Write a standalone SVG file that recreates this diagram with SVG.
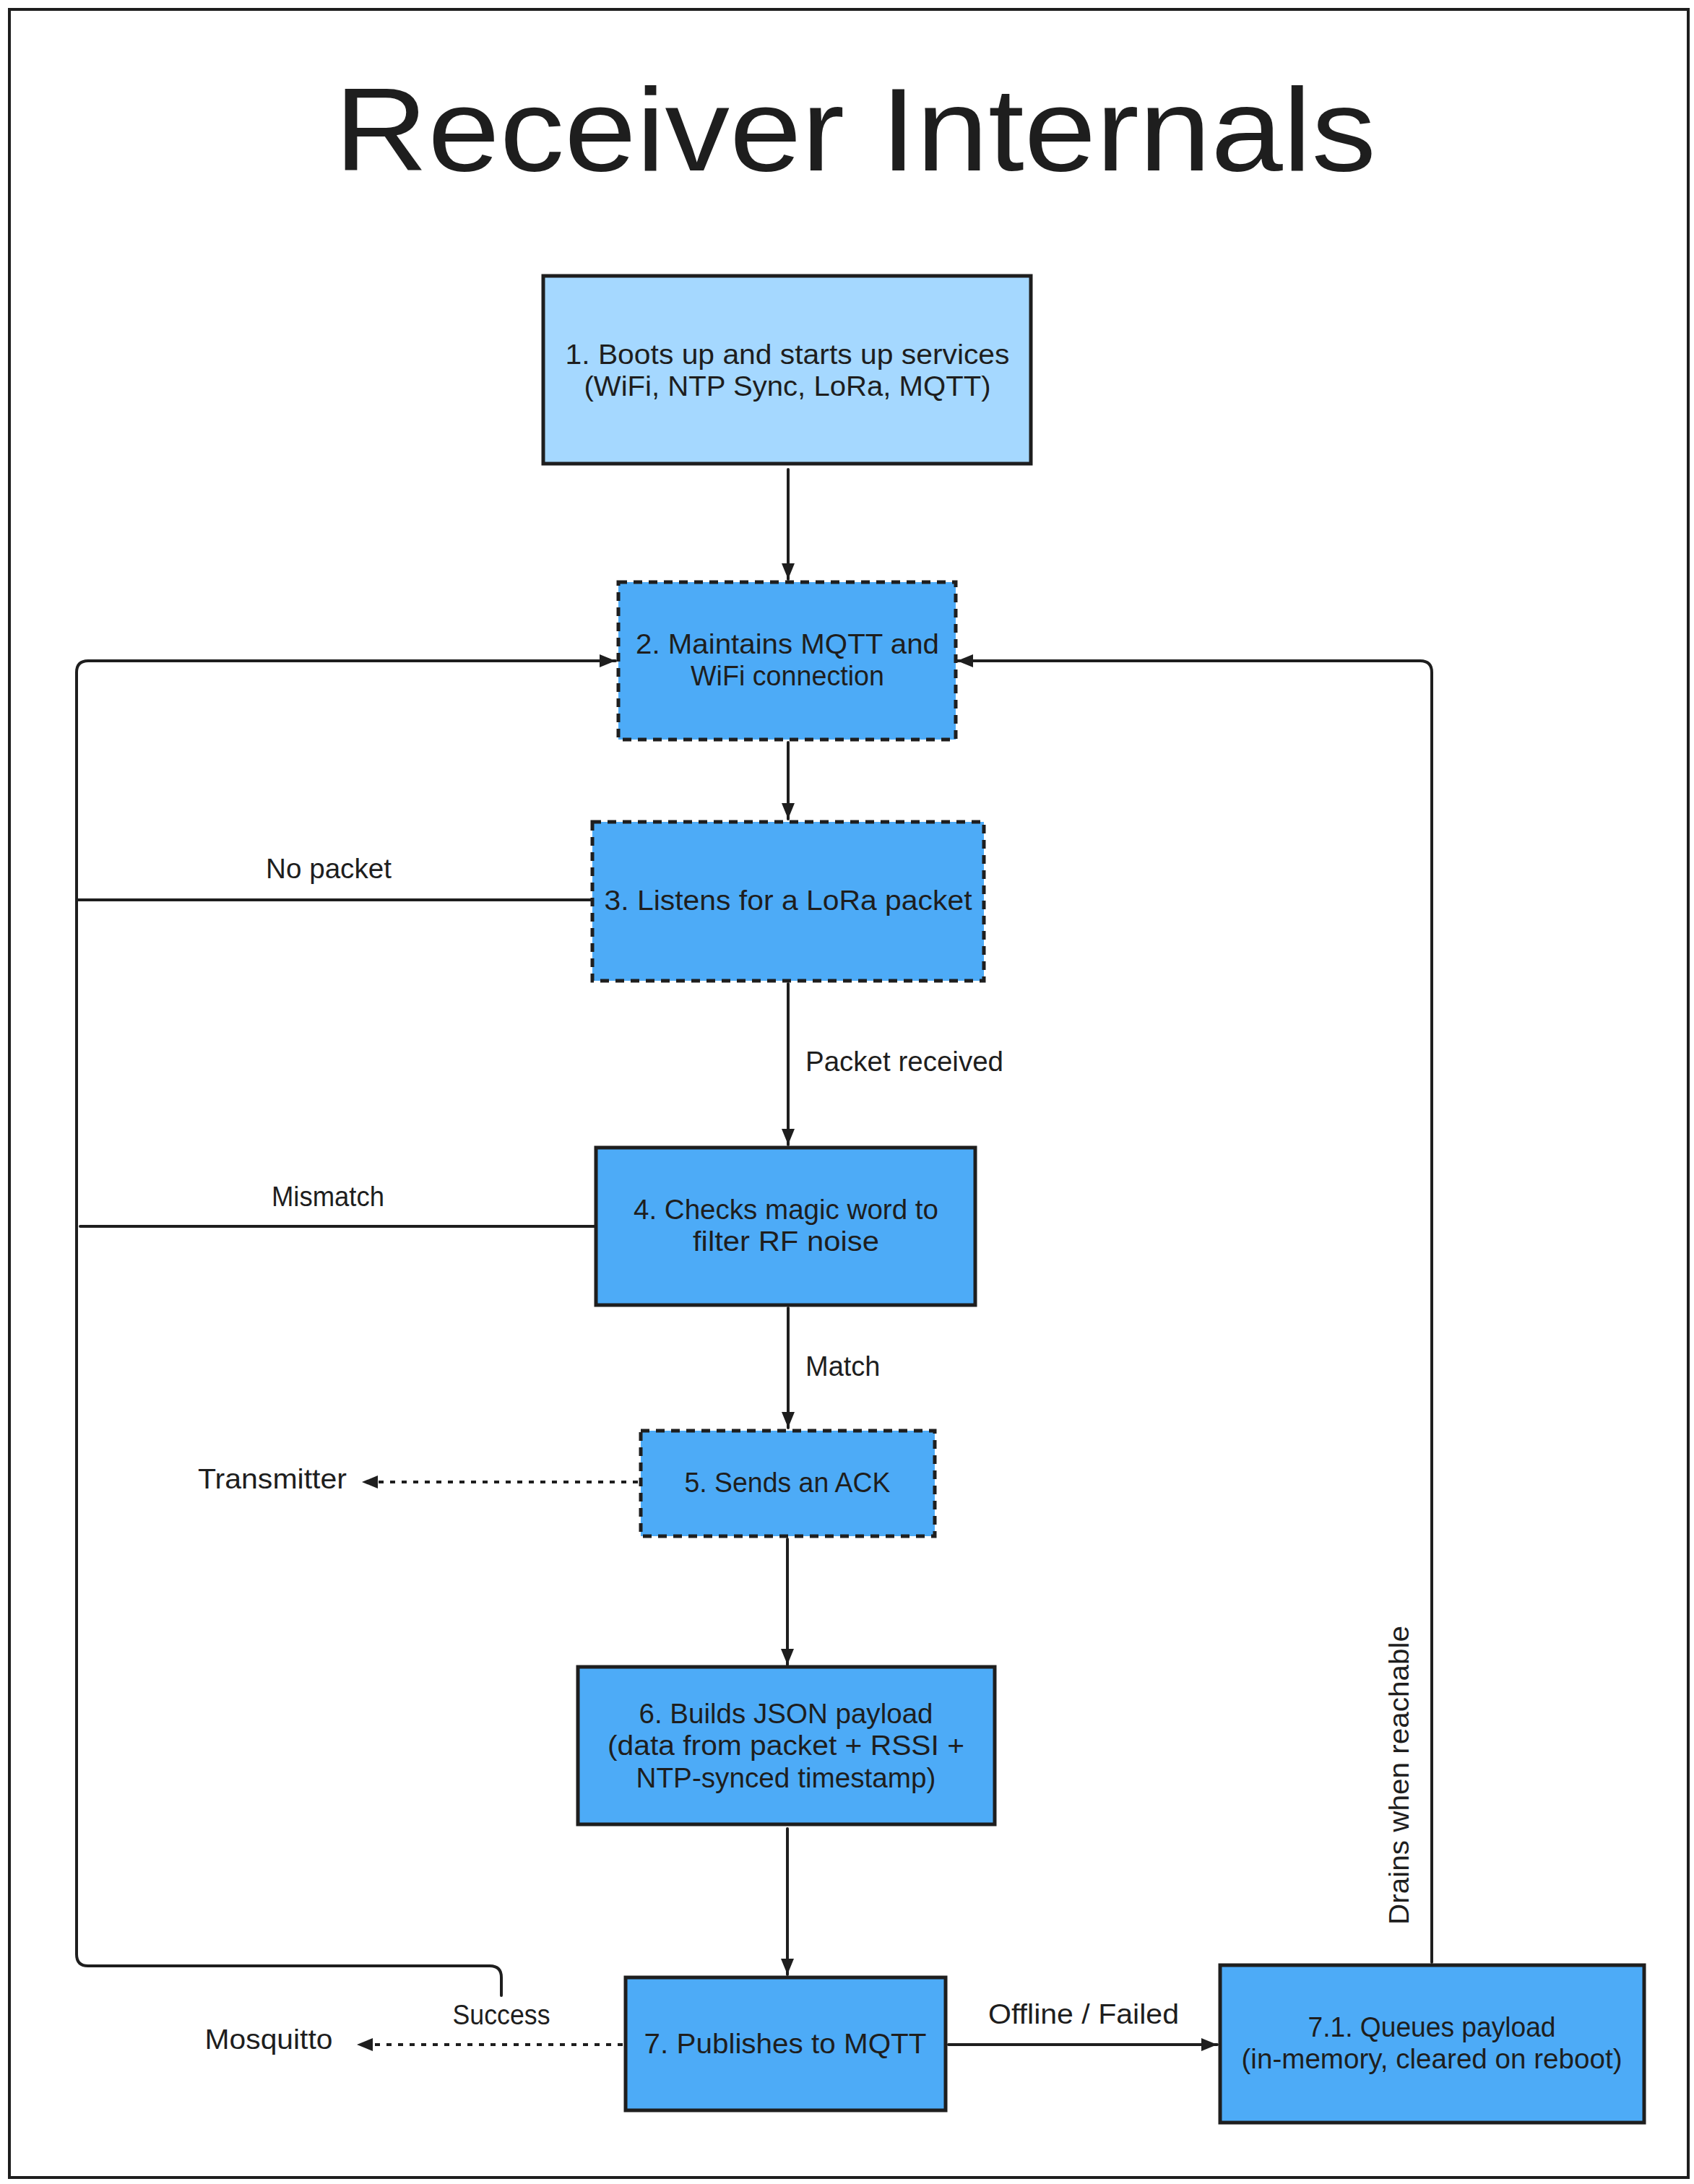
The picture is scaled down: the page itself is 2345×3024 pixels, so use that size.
<svg xmlns="http://www.w3.org/2000/svg" width="2345" height="3024" viewBox="0 0 2345 3024">
<defs>
<style>
text{font-family:"Liberation Sans",Arial,sans-serif;fill:#1e1e1e}
.t{font-size:38px;text-anchor:middle}
.l{font-size:38px}
.box{stroke:#1e1e1e;stroke-width:5}
.light{fill:#a5d8ff}
.blue{fill:#4dabf7}
.dash{stroke-dasharray:12 9}
.c{fill:none;stroke:#1e1e1e;stroke-width:4;stroke-linecap:round;stroke-linejoin:round}
.dot{stroke-dasharray:7 9;stroke-linecap:butt}
</style>
<marker id="ah" markerUnits="userSpaceOnUse" markerWidth="26" markerHeight="22" refX="22" refY="10" orient="auto">
<path d="M0 1 L22 10 L0 19 Z" fill="#1e1e1e"/>
</marker>
</defs>
<rect x="0" y="0" width="2345" height="3024" fill="#ffffff"/>
<rect id="frame" x="13" y="13" width="2324" height="3002" fill="none" stroke="#1e1e1e" stroke-width="4"/>
<text id="title" x="1184" y="236" font-size="164" text-anchor="middle" textLength="1442" lengthAdjust="spacingAndGlyphs">Receiver Internals</text>

<g id="connectors">
<path class="c" d="M1091 650 L1091 802" marker-end="url(#ah)"/>
<path class="c" d="M1091 1028 L1091 1134" marker-end="url(#ah)"/>
<path class="c" d="M1091 1362 L1091 1585" marker-end="url(#ah)"/>
<path class="c" d="M1091 1811 L1091 1977" marker-end="url(#ah)"/>
<path class="c" d="M1090 2131 L1090 2305" marker-end="url(#ah)"/>
<path class="c" d="M1090 2532 L1090 2734" marker-end="url(#ah)"/>
<path class="c" d="M1313 2831 L1685 2831" marker-end="url(#ah)"/>
<path class="c dot" d="M862 2831 L494 2831" marker-end="url(#ah)"/>
<path class="c dot" d="M883 2052 L501 2052" marker-end="url(#ah)"/>
<path class="c" d="M694 2763 L694 2738 Q694 2722 678 2722 L122 2722 Q106 2722 106 2706 L106 931 Q106 915 122 915 L852 915" marker-end="url(#ah)"/>
<path class="c" d="M820 1246 L106 1246"/>
<path class="c" d="M825 1698 L111 1698"/>
<path class="c" d="M1982 2717 L1982 931 Q1982 915 1966 915 L1325 915" marker-end="url(#ah)"/>
<text class="l" x="455" y="1216" text-anchor="middle" textLength="174" lengthAdjust="spacingAndGlyphs">No packet</text>
<text class="l" x="454" y="1670" text-anchor="middle" textLength="156" lengthAdjust="spacingAndGlyphs">Mismatch</text>
<text class="l" x="1115" y="1483" textLength="274" lengthAdjust="spacingAndGlyphs">Packet received</text>
<text class="l" x="1115" y="1905">Match</text>
<text class="l" x="377" y="2061" text-anchor="middle" textLength="206" lengthAdjust="spacingAndGlyphs">Transmitter</text>
<text class="l" x="694" y="2803" text-anchor="middle" textLength="135" lengthAdjust="spacingAndGlyphs">Success</text>
<text class="l" x="372" y="2837" text-anchor="middle" textLength="177" lengthAdjust="spacingAndGlyphs">Mosquitto</text>
<text class="l" x="1500" y="2802" text-anchor="middle" textLength="264" lengthAdjust="spacingAndGlyphs">Offline / Failed</text>
<text class="l" transform="translate(1950 2458) rotate(-90)" text-anchor="middle" font-size="40" textLength="414" lengthAdjust="spacingAndGlyphs">Drains when reachable</text>
</g>

<g id="n1">
<rect class="box light" x="752" y="382" width="675" height="260"/>
<text class="t" x="1090" y="504" textLength="615" lengthAdjust="spacingAndGlyphs">1. Boots up and starts up services</text>
<text class="t" x="1090" y="548" textLength="563" lengthAdjust="spacingAndGlyphs">(WiFi, NTP Sync, LoRa, MQTT)</text>
</g>
<g id="n2">
<rect class="box blue dash" x="856" y="806" width="467" height="218"/>
<text class="t" x="1090" y="905" textLength="420" lengthAdjust="spacingAndGlyphs">2. Maintains MQTT and</text>
<text class="t" x="1090" y="949" textLength="268" lengthAdjust="spacingAndGlyphs">WiFi connection</text>
</g>
<g id="n3">
<rect class="box blue dash" x="820" y="1138" width="542" height="220"/>
<text class="t" x="1091" y="1260" textLength="509" lengthAdjust="spacingAndGlyphs">3. Listens for a LoRa packet</text>
</g>
<g id="n4">
<rect class="box blue" x="825" y="1589" width="525" height="218"/>
<text class="t" x="1088" y="1688" textLength="422" lengthAdjust="spacingAndGlyphs">4. Checks magic word to</text>
<text class="t" x="1088" y="1732" textLength="258" lengthAdjust="spacingAndGlyphs">filter RF noise</text>
</g>
<g id="n5">
<rect class="box blue dash" x="887" y="1981" width="407" height="146"/>
<text class="t" x="1090" y="2066" textLength="285" lengthAdjust="spacingAndGlyphs">5. Sends an ACK</text>
</g>
<g id="n6">
<rect class="box blue" x="800" y="2308" width="577" height="218"/>
<text class="t" x="1088" y="2386" textLength="407" lengthAdjust="spacingAndGlyphs">6. Builds JSON payload</text>
<text class="t" x="1088" y="2430" textLength="494" lengthAdjust="spacingAndGlyphs">(data from packet + RSSI +</text>
<text class="t" x="1088" y="2475" textLength="415" lengthAdjust="spacingAndGlyphs">NTP-synced timestamp)</text>
</g>
<g id="n7">
<rect class="box blue" x="866" y="2738" width="443" height="184"/>
<text class="t" x="1087" y="2843" textLength="391" lengthAdjust="spacingAndGlyphs">7. Publishes to MQTT</text>
</g>
<g id="n71">
<rect class="box blue" x="1689" y="2721" width="587" height="218"/>
<text class="t" x="1982" y="2820" textLength="343" lengthAdjust="spacingAndGlyphs">7.1. Queues payload</text>
<text class="t" x="1982" y="2864" textLength="527" lengthAdjust="spacingAndGlyphs">(in-memory, cleared on reboot)</text>
</g>
</svg>
